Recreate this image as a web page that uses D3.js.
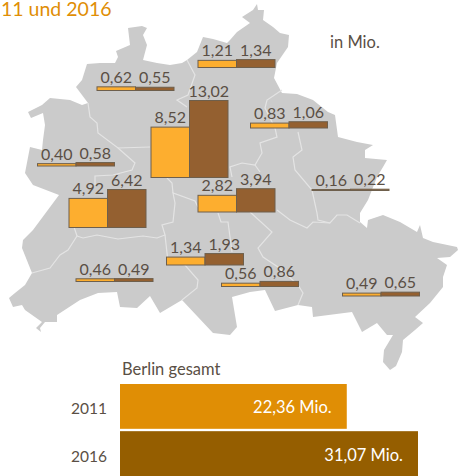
<!DOCTYPE html>
<html>
<head>
<meta charset="utf-8">
<script src="https://cdn.jsdelivr.net/npm/d3@7"></script>
<style>
    html, body { margin: 0; padding: 0; background: #fff; }
    svg { display: block; }
    text { font-family: Lato, "Open Sans", sans-serif; fill: #5a4f45; }
</style>
</head>
<body>
<div id="chart"></div>
<script>
// values in Mio.
const districts = ["Reinickendorf", "Pankow", "Mitte", "Spandau", "Charlottenburg-Wilmersdorf", "Friedrichshain-Kreuzberg",
    "Lichtenberg", "Marzahn-Hellersdorf", "Tempelhof-Schoeneberg", "Steglitz-Zehlendorf", "Neukoelln", "Treptow-Koepenick"];
const values2011 = [0.62, 1.21, 8.52, 0.40, 4.92, 2.82, 0.83, 0.16, 1.34, 0.46, 0.56, 0.49];
const values2016 = [0.55, 1.34, 13.02, 0.58, 6.42, 3.94, 1.06, 0.22, 1.93, 0.49, 0.86, 0.65];
const years = ["2011", "2016"];
const totals = [22.36, 31.07];

// where each pair of bars sits on the map: [centre x, bottom y]
const anchors = {
    "Reinickendorf": [135.5, 90.5],
    "Pankow": [236.5, 67.5],
    "Mitte": [189.5, 177.5],
    "Spandau": [76, 166],
    "Charlottenburg-Wilmersdorf": [107.5, 227.5],
    "Friedrichshain-Kreuzberg": [236.5, 212],
    "Lichtenberg": [289, 128],
    "Marzahn-Hellersdorf": [350.5, 190.5],
    "Tempelhof-Schoeneberg": [205, 265],
    "Steglitz-Zehlendorf": [114.5, 281.5],
    "Neukoelln": [260, 286.5],
    "Treptow-Koepenick": [381, 296]
};

// base map, traced by hand
const outline = [[76,87],[82,80],[87,64],[100,63],[115,63],[118,57],[116,51],[130,45],[128,28],[142,26],[147,28],[143,35],[147,45],[143,60],
    [157,63],[170,65],[182,63],[187,60],[197,52],[203,37],[213,39],[227,43],[230,40],[237,32],[250,23],[242,17],[253,10],[257,4],[258,10],[264,10],
    [263,20],[273,27],[280,33],[289,35],[288,47],[277,63],[274,78],[282,93],[297,94],[313,100],[328,112],[335,115],[338,137],[357,142],[373,145],
    [365,150],[365,158],[387,160],[383,167],[377,177],[368,200],[360,213],[360,222],[367,228],[368,220],[383,215],[400,222],[417,232],[420,225],
    [423,238],[433,242],[457,247],[458,250],[450,257],[437,258],[447,265],[443,277],[443,287],[430,303],[415,317],[423,323],[415,330],[403,340],
    [402,352],[396,366],[390,370],[383,362],[384,350],[393,335],[387,335],[377,323],[362,332],[352,312],[313,317],[312,307],[298,305],[275,311],
    [265,290],[250,292],[232,297],[237,327],[230,335],[213,333],[182,300],[160,313],[150,296],[137,308],[120,307],[117,292],[98,293],[80,300],
    [57,315],[57,322],[65,322],[45,322],[40,328],[41,332],[36,328],[42,322],[25,310],[22,305],[13,307],[9,298],[15,293],[25,285],[32,273],[22,248],
    [23,240],[33,230],[59,195],[33,185],[25,173],[30,147],[42,150],[43,140],[45,125],[43,113],[31,118],[28,112],[42,105],[50,98],[70,100],[82,105],[88,103]];

const borders = [
    [[187,60],[195,75],[188,95],[177,100],[187,107]],
    [[88,103],[90,117],[97,123],[98,133],[118,148],[150,147]],
    [[118,148],[135,163],[132,170],[113,175],[95,176],[95,185]],
    [[74,227],[77,236],[68,250],[60,255],[50,268],[32,273]],
    [[77,236],[83,238],[97,235],[118,239],[143,236],[157,238],[165,235],[162,225],[173,222],[175,203],[173,193],[195,201],[198,207]],
    [[173,193],[172,183],[167,178]],
    [[165,235],[168,262],[185,265],[198,280],[197,288],[182,300]],
    [[218,213],[221,222],[228,222],[232,252]],
    [[250,212],[272,232],[258,248],[263,257],[278,267],[298,285],[303,293],[298,305]],
    [[277,210],[290,220],[307,228],[313,222],[330,223],[337,215],[347,215],[360,223]],
    [[298,132],[302,150],[293,157],[295,170],[312,190],[317,213],[318,220],[330,223]],
    [[282,90],[267,100],[265,108],[275,128],[277,137],[260,143],[262,153],[255,165],[242,163],[230,167],[232,177]],
    [[255,165],[260,172]]
];

const svg = d3.select("#chart").append("svg")
    .attr("width", 460)
    .attr("height", 476);

// map
const line = d3.line();
svg.append("path")
    .attr("d", line(outline) + "Z")
    .attr("fill", "#cbcbcb");
svg.selectAll(".border")
    .data(borders)
    .enter()
    .append("path")
    .attr("class", "border")
    .attr("d", line)
    .attr("fill", "none")
    .attr("stroke", "#e4e4e4")
    .attr("stroke-width", 1.2);

// title, cut off by the left edge as in the source
svg.append("text")
    .attr("x", 1)
    .attr("y", 16)
    .style("font-size", "19.5px")
    .style("fill", "#e08e05")
    .text("11 und 2016");

svg.append("text")
    .attr("x", 330)
    .attr("y", 48)
    .style("font-size", "16.5px")
    .text("in Mio.");

// district bars
const barX = d3.scaleBand().domain(years).range([-38.5, 38.5]);
const barH = d3.scaleLinear().domain([0, 13.02]).range([0, 77]);
const barColor = d3.scaleOrdinal().domain(years).range(["#fdae2f", "#946030"]);

const rows = districts.map((d, i) => ({district: d, values: [values2011[i], values2016[i]]}));

const groups = svg.selectAll(".district")
    .data(rows)
    .enter()
    .append("g")
    .attr("class", "district")
    .attr("transform", d => `translate(${anchors[d.district][0]}, ${anchors[d.district][1]})`);

groups.selectAll("rect")
    .data(d => d.values.map((v, i) => ({year: years[i], value: v})))
    .enter()
    .append("rect")
    .attr("x", d => barX(d.year))
    .attr("y", d => -barH(d.value))
    .attr("width", barX.bandwidth())
    .attr("height", d => barH(d.value))
    .attr("fill", d => barColor(d.year))
    .attr("stroke", "#6e5f4c")
    .attr("stroke-width", 1);

const fmt = v => v.toFixed(2).replace(".", ",");

groups.selectAll("text")
    .data(d => d.values.map((v, i) => ({year: years[i], value: v})))
    .enter()
    .append("text")
    .attr("x", d => barX(d.year) + barX.bandwidth() / 2)
    .attr("y", d => -barH(d.value) - 4)
    .attr("text-anchor", "middle")
    .style("font-size", "16px")
    .text(d => fmt(d.value));

// Berlin total
svg.append("text")
    .attr("x", 122)
    .attr("y", 375)
    .style("font-size", "16.5px")
    .text("Berlin gesamt");

const totalX = d3.scaleLinear().domain([-5.37, 31.07]).range([120, 418]);
const totalY = d3.scaleBand().domain(years).range([384, 476]).paddingInner(0.05);
const totalColor = d3.scaleOrdinal().domain(years).range(["#e08e05", "#955e00"]);

const totalRows = years.map((y, i) => ({year: y, value: totals[i]}));

svg.selectAll(".total")
    .data(totalRows)
    .enter()
    .append("rect")
    .attr("class", "total")
    .attr("x", totalX.range()[0])
    .attr("y", d => totalY(d.year))
    .attr("width", d => totalX(d.value) - totalX.range()[0])
    .attr("height", totalY.bandwidth())
    .attr("fill", d => totalColor(d.year));

svg.selectAll(".total-label")
    .data(totalRows)
    .enter()
    .append("text")
    .attr("class", "total-label")
    .attr("x", d => totalX(d.value) - 15)
    .attr("y", d => totalY(d.year) + totalY.bandwidth() / 2 + 7)
    .attr("text-anchor", "end")
    .style("font-size", "16.5px")
    .style("fill", "#fff")
    .text(d => fmt(d.value) + " Mio.");

const yAxis = d3.axisLeft(totalY).tickSize(0).tickPadding(13);
const yAxisG = svg.append("g")
    .attr("transform", "translate(120, 0)")
    .call(yAxis);
yAxisG.select(".domain").remove();
yAxisG.selectAll("text")
    .attr("dy", "0.52em")
    .style("font-size", "15.5px");
</script>
</body>
</html>
